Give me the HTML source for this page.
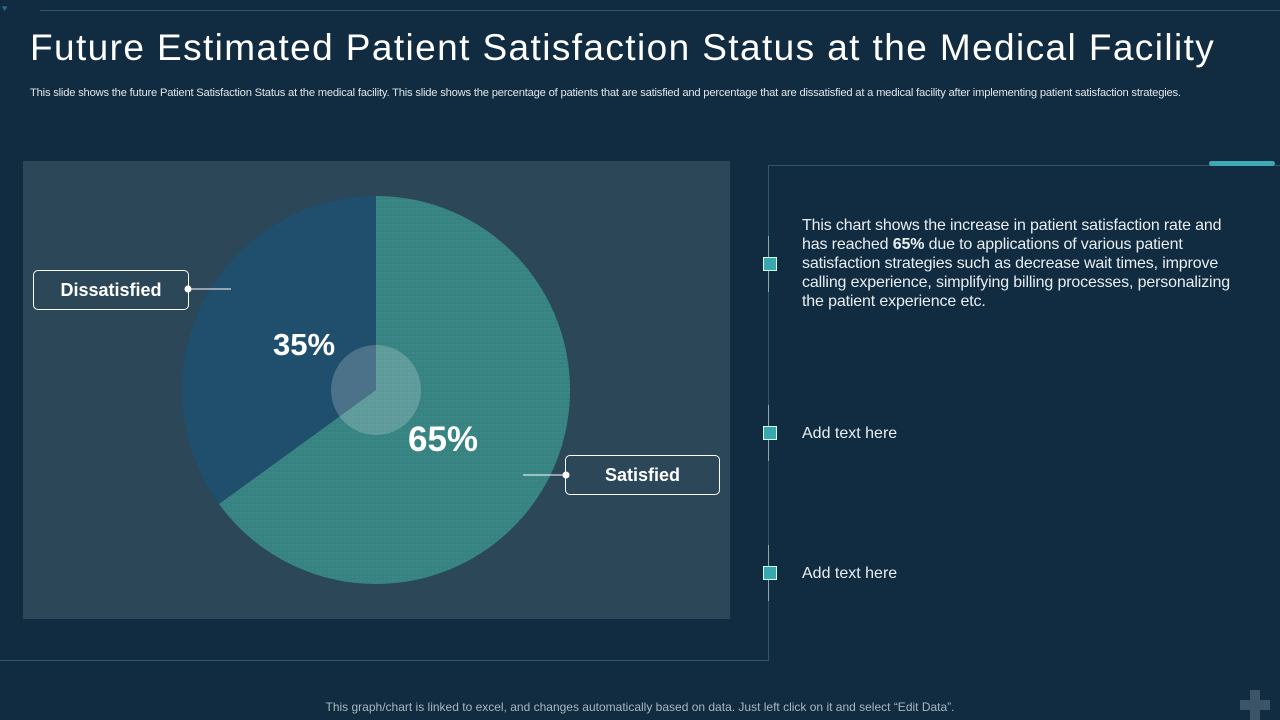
<!DOCTYPE html>
<html><head><meta charset="utf-8"><style>
body{margin:0;width:1280px;height:720px;background:#112c40;font-family:"Liberation Sans",sans-serif;overflow:hidden;position:relative;color:#fff}
.abs{position:absolute}
h1{position:absolute;left:30px;top:27px;margin:0;font-weight:normal;font-size:37px;letter-spacing:1.4px;color:#fff}
.sub{left:30px;top:87px;font-size:11.2px;color:#dfe6ea;letter-spacing:-0.2px;white-space:nowrap}
.lbl{border:1px solid #fff;border-radius:5px;font-weight:bold;font-size:18px;text-align:center;line-height:38px}
.txt{left:802px;font-size:16px;color:#e8eef2;line-height:19px;white-space:nowrap}
.sq{width:12px;height:12px;background:#3aa7ae;border:1px solid #cfe;left:763px}
.vl{width:1px;background:#8aa;left:768px}
</style></head><body>
<div class="abs" style="left:40px;top:10px;width:1240px;height:1px;background:#2d5670"></div>
<div class="abs" style="left:2px;top:3px;font-size:9px;color:#2d6a8a">♥</div>
<h1>Future Estimated Patient Satisfaction Status at the Medical Facility</h1>
<div class="abs sub">This slide shows the future Patient Satisfaction Status at the medical facility. This slide shows the percentage of patients that are satisfied and percentage that are dissatisfied at a medical facility after implementing patient satisfaction strategies.</div>
<div class="abs" style="left:23px;top:161px;width:707px;height:458px;background:#2b4758"></div>
<svg class="abs" style="left:0;top:0" width="1280" height="720">
<defs><pattern id="dots" width="4" height="4" patternUnits="userSpaceOnUse"><rect width="4" height="4" fill="#378382"/><circle cx="1" cy="1" r="0.6" fill="#4a9493"/></pattern></defs>
<g id="pie"></g>
<circle cx="376" cy="390" r="45" fill="rgba(255,255,255,0.2)"/>
<line x1="188" y1="289" x2="231" y2="289" stroke="#fff" stroke-width="1"/>
<circle cx="188" cy="289" r="3.5" fill="#fff"/>
<line x1="523" y1="475" x2="566" y2="475" stroke="#fff" stroke-width="1"/>
<circle cx="566" cy="475" r="3.5" fill="#fff"/>
<rect x="768" y="165" width="512" height="1" fill="#2d5670"/>
<rect x="768" y="165" width="1" height="496" fill="#2d5670"/>
<rect x="0" y="660" width="768" height="1" fill="#2d5670"/>
<rect x="1209" y="161" width="66" height="5" rx="2.5" fill="#3fa9b3"/>
<path d="M1250 690h10v10h10v10h-10v10h-10v-10h-10v-10h10z" fill="#3b5566"/>
</svg>
<div class="abs lbl" style="left:33px;top:270px;width:154px;height:38px">Dissatisfied</div>
<div class="abs lbl" style="left:565px;top:455px;width:153px;height:38px">Satisfied</div>
<div class="abs" id="v0" style="left:273px;top:327px;font-size:31px;font-weight:bold"></div>
<div class="abs" id="v1" style="left:408px;top:420px;font-size:35px;font-weight:bold"></div>
<div class="abs vl" style="top:236px;height:56px"></div><div class="abs sq" style="top:257px"></div>
<div class="abs vl" style="top:405px;height:56px"></div><div class="abs sq" style="top:426px"></div>
<div class="abs vl" style="top:545px;height:56px"></div><div class="abs sq" style="top:566px"></div>
<div class="abs txt" style="top:216px;letter-spacing:-0.15px">This chart shows the increase in patient satisfaction rate and<br>has reached <b>65%</b> due to applications of various patient<br>satisfaction strategies such as decrease wait times, improve<br>calling experience, simplifying billing processes, personalizing<br>the patient experience etc.</div>
<div class="abs txt" style="top:424px">Add text here</div>
<div class="abs txt" style="top:564px">Add text here</div>
<div class="abs" style="left:0;width:1280px;text-align:center;top:700px;font-size:12px;color:#a9b6bf">This graph/chart is linked to excel, and changes automatically based on data. Just left click on it and select “Edit Data”.</div>
<script>
const categories=["Dissatisfied","Satisfied"];
const values=[35,65];
const colors=["#1f4f6c","url(#dots)"];
const cx=376,cy=390,r=194;
const total=values.reduce((a,b)=>a+b,0);
const g=document.getElementById('pie');
function pt(a){return [cx+r*Math.sin(a),cy-r*Math.cos(a)];}
let start=0;
values.forEach((v,i)=>{
  const sweep=v/total*2*Math.PI;
  const a0=-start, a1=-(start+sweep);
  const p0=pt(a0),p1=pt(a1);
  const large=sweep>Math.PI?1:0;
  const p=document.createElementNS('http://www.w3.org/2000/svg','path');
  p.setAttribute('d',`M${cx},${cy}L${p0[0]},${p0[1]}A${r},${r} 0 ${large} 0 ${p1[0]},${p1[1]}Z`);
  p.setAttribute('fill',colors[i]);
  
  
  g.appendChild(p);
  document.getElementById('v'+i).textContent=v+'%';
  start+=sweep;
});
</script>
</body></html>
